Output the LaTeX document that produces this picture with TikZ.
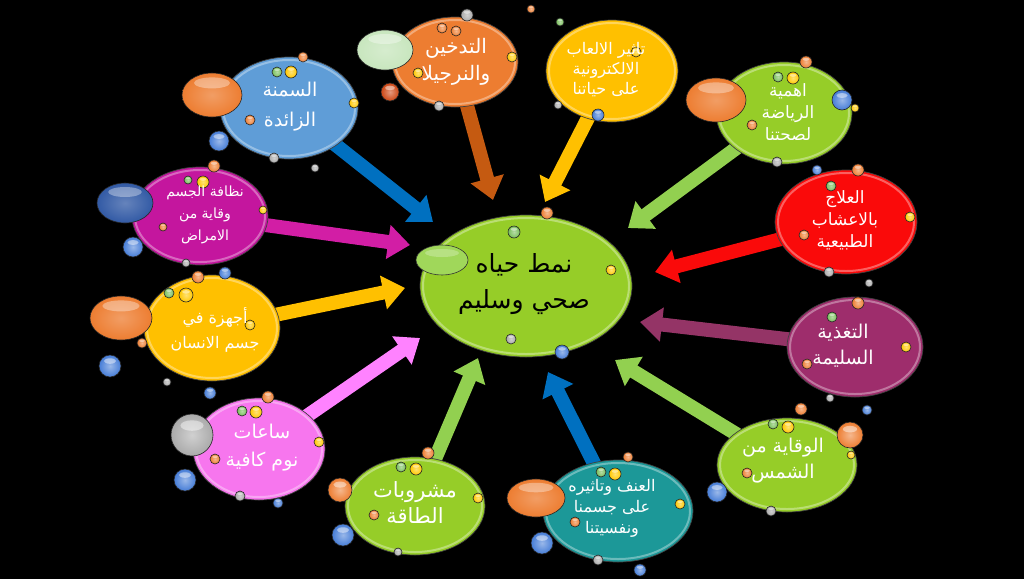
\documentclass[tikz,border=0pt]{standalone}
\usepackage{fontspec}
\usetikzlibrary{shapes.geometric,arrows.meta}
\TeXXeTstate=1
\newfontfamily\arabicfont[Script=Arabic]{DejaVu Sans}
\newcommand\myR[1]{\beginR #1\endR}
\definecolor{cblue}{RGB}{95,157,215}
\definecolor{corange}{RGB}{237,125,49}
\definecolor{cgold}{RGB}{255,192,0}
\definecolor{cgreen}{RGB}{150,205,40}
\definecolor{cred}{RGB}{250,10,10}
\definecolor{cpurple}{RGB}{158,45,108}
\definecolor{cteal}{RGB}{28,152,152}
\definecolor{cpink}{RGB}{247,118,238}
\definecolor{cmag}{RGB}{196,22,158}
\definecolor{abrown}{RGB}{197,90,17}
\definecolor{ablue}{RGB}{0,112,192}
\definecolor{agreen}{RGB}{146,208,80}
\definecolor{apurple}{RGB}{148,52,102}
\definecolor{apink}{RGB}{255,130,255}
\definecolor{amag}{RGB}{210,30,165}
\definecolor{bo}{RGB}{237,125,49}
\definecolor{by}{RGB}{255,200,0}
\definecolor{bg}{RGB}{120,190,90}
\definecolor{bgr}{RGB}{170,170,170}
\definecolor{bb}{RGB}{70,125,215}
\definecolor{bdo}{RGB}{205,70,20}
\definecolor{bdb}{RGB}{50,90,165}
\definecolor{bpg}{RGB}{200,230,190}
\definecolor{blg}{RGB}{160,215,90}
\pgfdeclarelayer{bgl}
\pgfdeclarelayer{arrl}
\pgfsetlayers{bgl,arrl,main}
\tikzset{
  bub/.style={ellipse, draw=black!75, line width=0.7pt, inner sep=0pt},
  rim/.style={draw=white, draw opacity=0.35, line width=2pt},
  txt/.style={text=white, align=center, inner sep=0pt},
  arr/.style={line width=14pt, -{Triangle[length=22pt,width=33pt]}},
  ball/.style={draw=black!85, line width=0.6pt},
}
\begin{document}
\begin{tikzpicture}[x=1pt,y=-1pt]
\begin{pgfonlayer}{bgl}
\fill[black] (0,0) rectangle (1024,579);
\end{pgfonlayer}
\useasboundingbox (0,0) rectangle (1024,579);
% main ellipses
\node[bub, fill=cblue, minimum width=138pt, minimum height=102pt] (n1) at (289,108) {};
\node[bub, fill=corange, minimum width=126pt, minimum height=90pt] (n2) at (455,62) {};
\node[bub, fill=cgold, minimum width=132pt, minimum height=102pt] (n3) at (612,71) {};
\node[bub, fill=cgreen, minimum width=136pt, minimum height=102pt] (n4) at (784,113) {};
\node[bub, fill=cred, minimum width=142pt, minimum height=104pt] (n5) at (846,222) {};
\node[bub, fill=cpurple, minimum width=136pt, minimum height=100pt] (n6) at (855,347) {};
\node[bub, fill=cgreen, minimum width=212pt, minimum height=142pt] (c) at (526,286) {};
\node[bub, fill=cgreen, minimum width=140pt, minimum height=94pt] (n8) at (787,465) {};
\node[bub, fill=cteal, minimum width=150pt, minimum height=102pt] (n9) at (618,511) {};
\node[bub, fill=cgreen, minimum width=140pt, minimum height=98pt] (n10) at (415,506) {};
\node[bub, fill=cpink, minimum width=132pt, minimum height=102pt] (n11) at (259,449) {};
\node[bub, fill=cmag, minimum width=136pt, minimum height=98pt] (n12) at (200,216) {};
\node[bub, fill=cgold, minimum width=136pt, minimum height=106pt] (n13) at (212,328) {};
% glossy rims
\foreach \n/\rx/\ry in {n1/66/48, n2/60/42, n3/63/48, n4/65/48, n5/68/49, n6/65/47, c/103/68, n8/67/44, n9/72/48, n10/67/46, n11/63/48, n12/65/46, n13/65/50}
  \draw[rim] (\n.center) ellipse[x radius=\rx pt, y radius=\ry pt];
% arrow tips
\coordinate (t1) at (433,222);
\coordinate (t2) at (493,200);
\coordinate (t3) at (545,202);
\coordinate (t4) at (628,228);
\coordinate (t5) at (655,272);
\coordinate (t6) at (640,322);
\coordinate (t7) at (615,360);
\coordinate (t8) at (548,372);
\coordinate (t9) at (478,358);
\coordinate (t10) at (420,338);
\coordinate (t11) at (405,288);
\coordinate (t12) at (410,245);
\begin{pgfonlayer}{arrl}
\draw[arr, draw=ablue, fill=ablue] (n1.center) -- (t1);
\draw[arr, draw=abrown, fill=abrown] (n2.center) -- (t2);
\draw[arr, draw=cgold, fill=cgold] (n3.center) -- (t3);
\draw[arr, draw=agreen, fill=agreen] (n4.center) -- (t4);
\draw[arr, draw=cred, fill=cred] (n5.center) -- (t5);
\draw[arr, draw=apurple, fill=apurple] (n6.center) -- (t6);
\draw[arr, draw=agreen, fill=agreen] (n8.center) -- (t7);
\draw[arr, draw=ablue, fill=ablue] (n9.center) -- (t8);
\draw[arr, draw=agreen, fill=agreen] (n10.center) -- (t9);
\draw[arr, draw=apink, fill=apink] (n11.center) -- (t10);
\draw[arr, draw=cgold, fill=cgold] (n13.center) -- (t11);
\draw[arr, draw=amag, fill=amag] (n12.center) -- (t12);
\end{pgfonlayer}
% big side bubbles
\foreach \x/\y/\rx/\ry/\c in {212/95/30/22/bo, 385/50/28/20/bpg, 716/100/30/22/bo, 125/203/28/20/bdb, 121/318/31/22/bo, 536/498/29/19/bo}
  {\shade[ball, inner color=\c!75!white, outer color=\c] (\x,\y) ellipse[x radius=\rx pt, y radius=\ry pt];
   \fill[white, opacity=0.35] (\x,\y-0.55*\ry) ellipse[x radius=0.6*\rx pt, y radius=0.25*\ry pt];}
\fill[blg, draw=black!80, line width=0.6pt] (442,260) ellipse[x radius=26pt, y radius=15pt];
\fill[white, opacity=0.25] (442,253) ellipse[x radius=17pt, y radius=4pt];
% small balls
\foreach \x/\y/\r/\c in {303/57/5/bo, 277/72/5/bg, 291/72/6/by, 354/103/5/by, 250/120/5/bo, 274/158/5/bgr, 219/141/10/bb, 315/168/4/bgr,
  442/28/5/bo, 456/31/5/bo, 467/15/6/bgr, 512/57/5/by, 418/73/5/by, 439/106/5/bgr, 390/92/9/bdo, 531/9/4/bo,
  560/22/4/bg, 636/52/5/by, 558/105/4/bgr, 598/115/6/bb,
  806/62/6/bo, 778/77/5/bg, 793/78/6/by, 842/100/10/bb, 855/108/4/by, 752/125/5/bo, 777/162/5/bgr,
  817/170/5/bb, 858/170/6/bo, 831/186/5/bg, 910/217/5/by, 804/235/5/bo, 829/272/5/bgr, 869/283/4/bgr,
  858/303/6/bo, 832/317/5/bg, 906/347/5/by, 807/364/5/bo, 830/398/4/bgr,
  547/213/6/bo, 514/232/6/bg, 611/270/5/by, 511/339/5/bgr, 562/352/7/bb,
  801/409/6/bo, 773/424/5/bg, 788/427/6/by, 850/435/13/bo, 851/455/4/by, 747/473/5/bo, 717/492/10/bb, 771/511/5/bgr, 867/410/5/bb,
  628/457/5/bo, 601/472/5/bg, 615/474/6/by, 680/504/5/by, 575/522/5/bo, 542/543/11/bb, 598/560/5/bgr, 640/570/6/bb,
  428/453/6/bo, 401/467/5/bg, 416/469/6/by, 340/490/12/bo, 478/498/5/by, 374/515/5/bo, 343/535/11/bb, 398/552/4/bgr,
  268/397/6/bo, 210/393/6/bb, 242/411/5/bg, 256/412/6/by, 192/435/21/bgr, 319/442/5/by, 215/459/5/bo, 185/480/11/bb, 240/496/5/bgr, 278/503/5/bb,
  214/166/6/bo, 188/180/4/bg, 203/182/6/by, 263/210/4/by, 163/227/4/bo, 133/247/10/bb, 186/263/4/bgr,
  198/277/6/bo, 225/273/6/bb, 169/293/5/bg, 186/295/7/by, 250/325/5/by, 142/343/5/bo, 110/366/11/bb, 167/382/4/bgr}
  {\shade[ball, inner color=\c!55!white, outer color=\c] (\x,\y) circle[radius=\r pt];
   \fill[white, opacity=0.45] (\x,\y-0.45*\r) ellipse[x radius=0.55*\r pt, y radius=0.25*\r pt];}
% texts
\node[txt, font=\arabicfont\fontsize{19}{30}\selectfont] (l1) at (290,107) {\myR{السمنة}\\\myR{الزائدة}};
\node[txt, font=\arabicfont\fontsize{20}{27}\selectfont] (l2) at (456,62) {\myR{التدخين}\\\myR{والنرجيلا}};
\node[txt, font=\arabicfont\fontsize{16}{20}\selectfont] (l3) at (606,70) {\myR{تاثير الالعاب}\\\myR{الالكترونية}\\\myR{على حياتنا}};
\node[txt, font=\arabicfont\fontsize{17}{22}\selectfont] (l4) at (788,112) {\myR{اهمية}\\\myR{الرياضة}\\\myR{لصحتنا}};
\node[txt, font=\arabicfont\fontsize{17}{22}\selectfont] (l5) at (845,220) {\myR{العلاج}\\\myR{بالاعشاب}\\\myR{الطبيعية}};
\node[txt, font=\arabicfont\fontsize{19}{26}\selectfont] (l6) at (843,346) {\myR{التغذية}\\\myR{السليمة}};
\node[txt, text=black, font=\arabicfont\fontsize{25}{36}\selectfont] (lc) at (524,284) {\myR{نمط حياه}\\\myR{صحي وسليم}};
\node[txt, font=\arabicfont\fontsize{19}{26}\selectfont] (l8) at (783,461) {\myR{الوقاية من}\\\myR{الشمس}};
\node[txt, font=\arabicfont\fontsize{16}{21}\selectfont] (l9) at (612,508) {\myR{العنف وتاثيره}\\\myR{على جسمنا}\\\myR{ونفسيتنا}};
\node[txt, font=\arabicfont\fontsize{21}{26}\selectfont] (l10) at (415,503) {\myR{مشروبات}\\\myR{الطاقة}};
\node[txt, font=\arabicfont\fontsize{19}{28}\selectfont] (l11) at (262,448) {\myR{ساعات}\\\myR{نوم كافية}};
\node[txt, font=\arabicfont\fontsize{14}{22}\selectfont] (l12) at (205,215) {\myR{نظافة الجسم}\\\myR{وقاية من}\\\myR{الامراض}};
\node[txt, font=\arabicfont\fontsize{16}{25}\selectfont] (l13) at (215,330) {\myR{أجهزة في}\\\myR{جسم الانسان}};
\end{tikzpicture}
\end{document}
